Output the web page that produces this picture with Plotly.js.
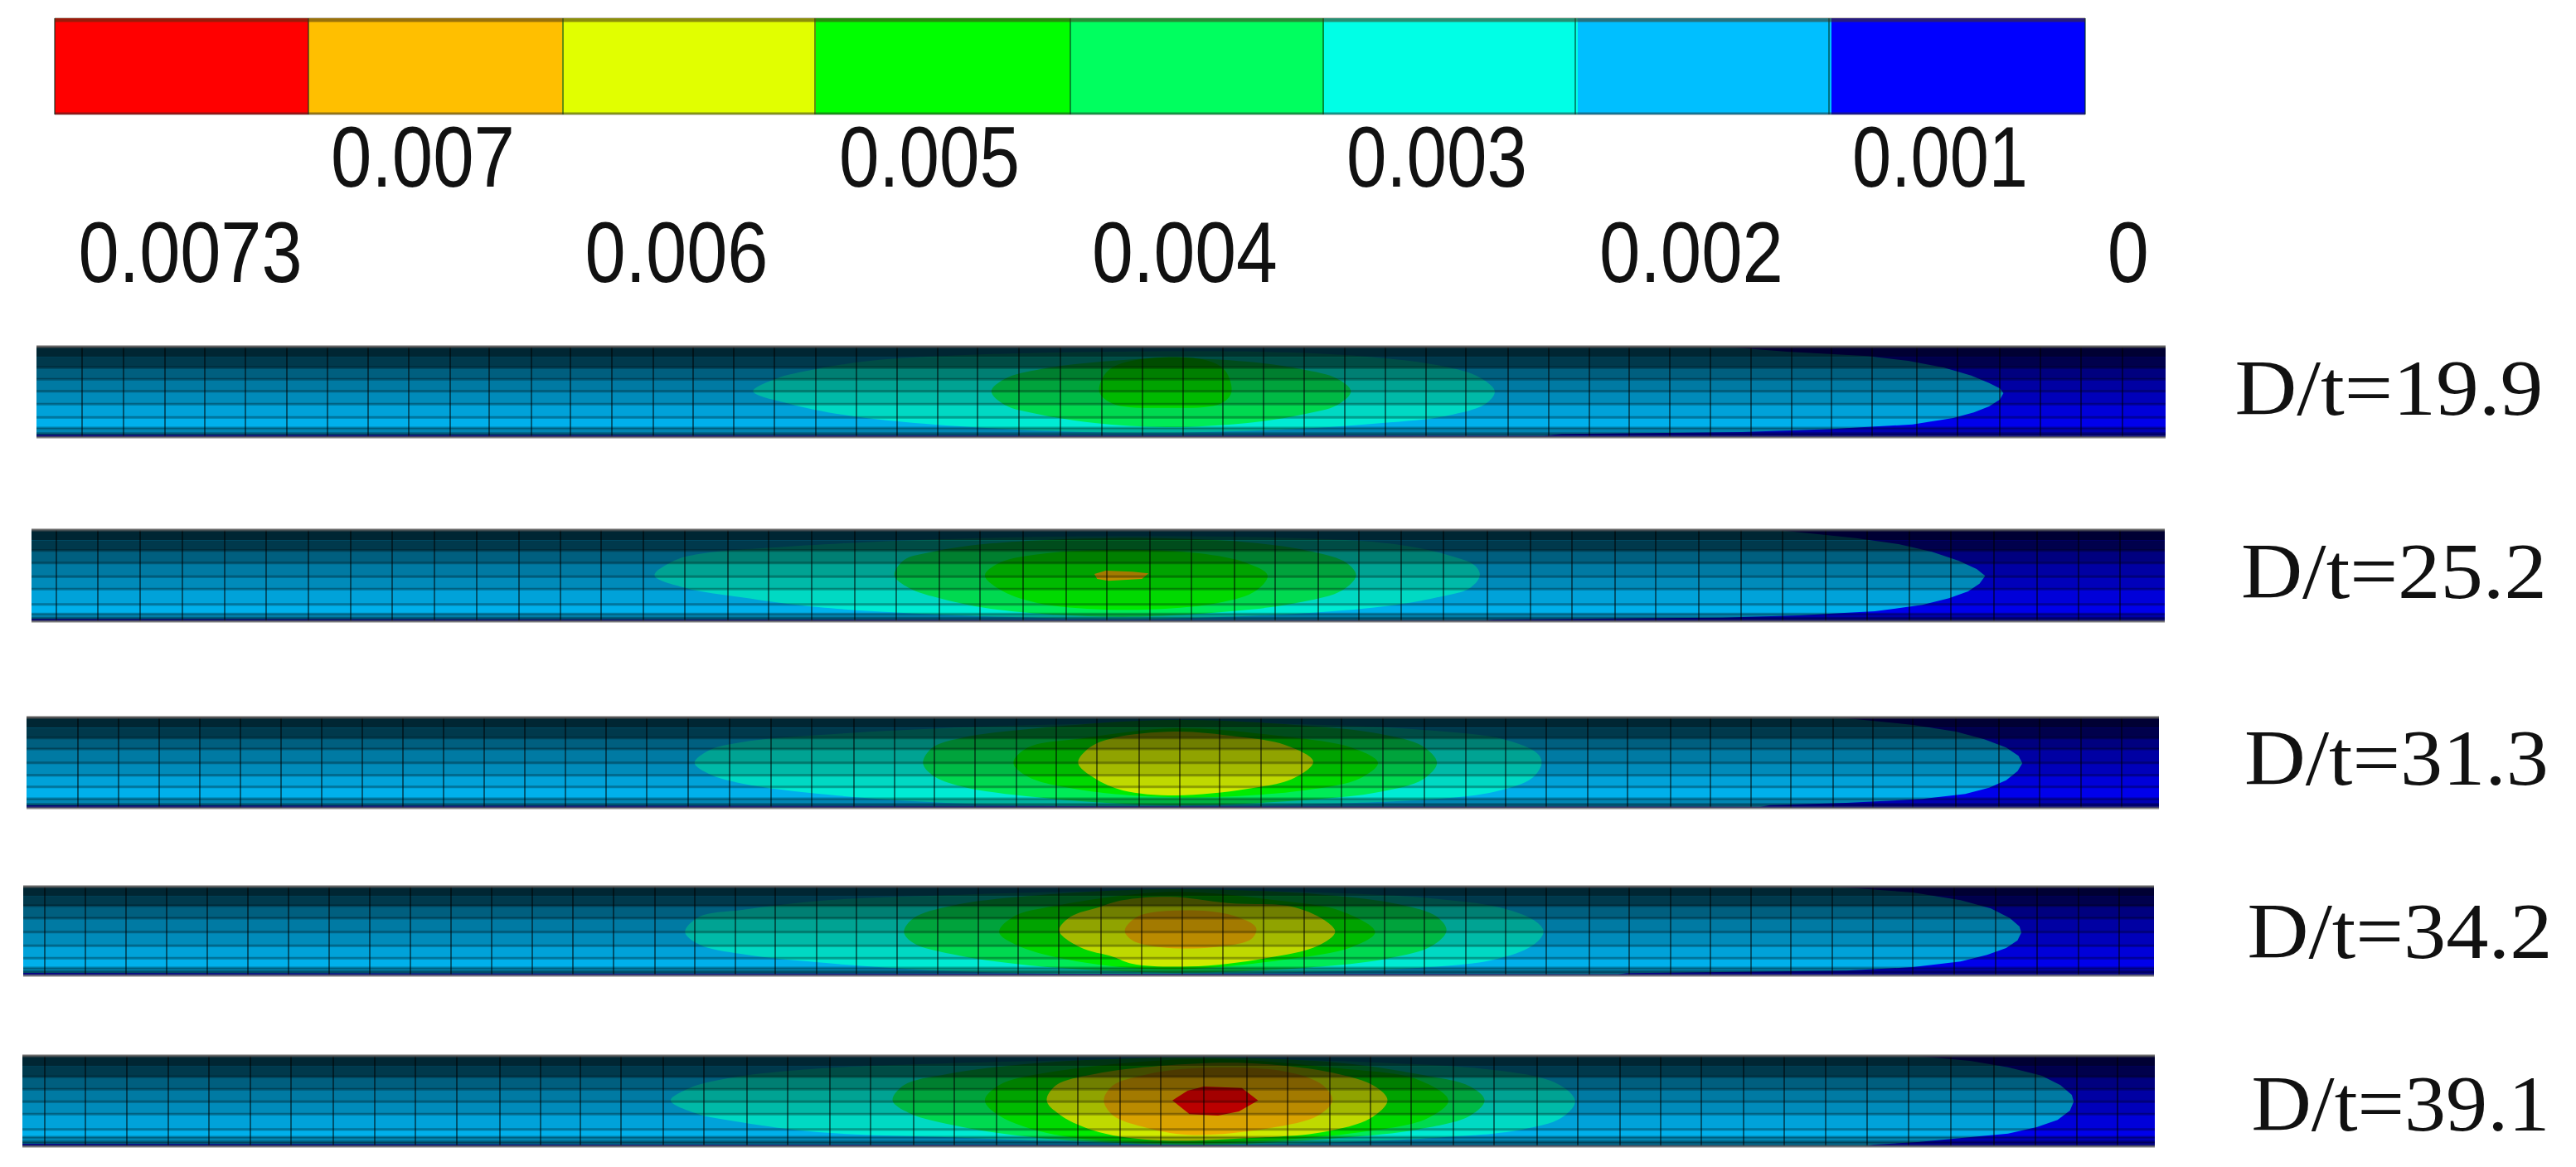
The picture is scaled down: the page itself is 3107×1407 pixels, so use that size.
<!DOCTYPE html>
<html>
<head>
<meta charset="utf-8">
<script src="https://cdn.plot.ly/plotly-3.0.1.min.js"></script>
<style>html,body{margin:0;padding:0;background:#fff}#chart{width:3107px;height:1407px}</style>
</head>
<body>
<div id="chart"></div>
<script>
// Legend
const bandColors = ['#0000ff','#00bfff','#00ffe6','#00ff5f','#00ff00','#e1ff00','#ffbf00','#ff0000'];
const legendEdges = [66,372,679,983,1291,1596,1900,2206,2515];
const legendBands = [7,6,5,4,3,2,1,0];
const legendTop = 22, legendBottom = 138;
const upperLabels = ['0.007','0.005','0.003','0.001'];
const upperLabelX = [510,1121,1733,2340];
const upperLabelW = [222,218,218,212];
const lowerLabels = ['0.0073','0.006','0.004','0.002','0'];
const lowerLabelX = [229,816,1429,2040,2566];
const lowerLabelW = [270,221,224,222,50];
const ratioLabels = ['D/t=19.9','D/t=25.2','D/t=31.3','D/t=34.2','D/t=39.1'];
const ratioX = [2881,2887,2890,2894,2895];
const ratioY = [467,688,913,1122,1330];
const ratioW = [372,369,367,368,360];

// Panel frames as [left,right,top,bottom] of the reference
const frames = [[44,2612,418,527],[38,2611,639,749],[32,2604,865,974],[28,2598,1069,1176],[27,2599,1273,1382]];
// Read-off calibration of the crops used for the contour tables
const readX0 = [800,700,700,700,700];
const readXScale = [0.9224,0.8711,0.8711,0.8711,0.8711];
const readY0 = [410,632,858,1062,1265];

// Mesh rows through the wall (read in crop units)
const rowEdges = [
 [24,62,100,142,185,232,280,318,338,351],
 [22,58,95,140,190,235,290,325,340,352],
 [20,58,95,135,185,230,272,315,335,347],
 [22,56,90,135,185,235,280,315,328,340],
 [25,62,100,145,190,235,290,318,335,352]];
const rowShade = [0.80,0.70,0.50,0.36,0.27,0.15,0.08,0.30,0.48];

// Mesh columns along the pipe (reference px)
const meshP1 = [99,149,199,247,296,346,395,444,493,543,590,641,688,738,788,836,885,934,984,1033,1082,1131,1179,1229,1279,1329,1378,1427,1475,1524,1573,1622,1671,1720,1768,1819,1868,1917,1965,2014,2063,2112,2161,2209,2258,2312,2361,2412,2461,2510,2560];
const meshP2 = [68,118,169,220,271,321,372,423,473,524,575,626,676,725,776,826,878,927,979,1031,1081,1133,1182,1234,1286,1335,1387,1437,1489,1538,1590,1639,1690,1741,1794,1846,1896,1948,1997,2049,2100,2150,2202,2252,2303,2353,2405,2457,2507,2557];
const meshP3 = [94,143,192,241,290,339,388,437,486,535,584,633,682,731,780,830,880,930,979,1030,1079,1127,1176,1226,1274,1323,1374,1423,1471,1521,1570,1618,1668,1718,1768,1816,1865,1915,1963,2015,2063,2112,2160,2211,2259,2307,2359,2411,2460,2510,2559];
const meshP4 = [54,103,152,201,250,299,348,397,446,495,544,593,642,691,740,790,838,887,935,985,1033,1082,1131,1180,1228,1277,1328,1377,1426,1475,1524,1573,1622,1670,1718,1768,1816,1865,1917,1965,2015,2063,2112,2160,2210,2259,2307,2357,2407,2457,2507,2556];
const meshP5 = [54,103,153,203,252,302,351,402,452,501,551,603,652,700,749,800,849,901,950,1001,1050,1102,1151,1202,1251,1300,1351,1400,1452,1504,1553,1604,1653,1702,1753,1802,1854,1903,1954,2003,2052,2103,2152,2202,2252,2302,2353,2405,2455,2505,2554];
const meshColumns = [meshP1,meshP2,meshP3,meshP4,meshP5];

// Contours: band index + outline in crop units. Band 1 is open on the left.
const outerP1 = [[1180,24],[1250,42],[1340,58],[1385,75],[1425,100],[1455,128],[1475,155],[1487,175],[1491,192],[1487,215],[1475,240],[1458,262],[1435,282],[1390,305],[1300,322],[1200,333],[1000,340],[980,346]];
const outerP2 = [[1260,22],[1340,50],[1385,72],[1420,100],[1448,132],[1467,162],[1476,187],[1470,215],[1458,243],[1438,268],[1410,292],[1360,315],[1280,330],[1200,338],[960,345],[950,348]];
const outerP3 = [[1320,20],[1400,48],[1445,72],[1475,100],[1498,130],[1511,160],[1515,187],[1510,215],[1498,248],[1480,275],[1455,298],[1410,316],[1330,330],[1250,338],[1240,344]];
const outerP4 = [[1320,22],[1400,42],[1450,70],[1482,100],[1502,135],[1512,165],[1514,187],[1510,215],[1498,243],[1478,268],[1450,292],[1400,312],[1330,325],[1100,334],[1090,338]];
const outerP5 = [[1405,25],[1460,42],[1500,65],[1535,95],[1555,130],[1567,165],[1569,190],[1565,222],[1552,256],[1530,282],[1500,305],[1405,336],[1360,345],[1350,350]];

const contoursP1 = [
 [2,[[100,185],[125,140],[170,105],[230,75],[330,55],[500,42],[700,45],[800,65],[860,90],[905,130],[925,185],[915,230],[870,275],[800,300],[700,322],[500,335],[300,305],[200,270],[140,230]]],
 [3,[[365,185],[380,140],[420,105],[480,80],[560,65],[650,78],[710,105],[750,140],[765,185],[750,235],[710,270],[650,300],[560,315],[480,300],[420,270],[380,235]]],
 [4,[[485,185],[495,110],[530,70],[600,70],[625,110],[632,190],[620,230],[560,245],[500,230]]]];
const contoursP2 = [
 [2,[[78,185],[100,130],[130,105],[200,85],[300,65],[500,45],[750,50],[850,70],[910,110],[940,150],[945,185],[935,230],[900,265],[850,295],[770,320],[600,342],[400,330],[250,300],[170,265],[110,230]]],
 [3,[[330,185],[340,130],[370,100],[430,70],[560,50],[700,65],[770,100],[805,140],[815,185],[800,240],[760,280],[700,310],[570,335],[440,310],[380,270],[345,230]]],
 [4,[[425,185],[440,140],[490,105],[570,92],[650,105],[700,140],[722,185],[710,240],[670,285],[570,310],[480,285],[440,235]]],
 [6,[[540,180],[552,168],[580,172],[597,178],[590,198],[555,205],[543,198]]]];
const contoursP3 = [
 [2,[[120,185],[135,140],[170,110],[250,85],[380,60],[620,40],[800,50],[900,70],[970,100],[1005,150],[1010,185],[1000,240],[960,290],[870,322],[620,340],[400,332],[260,300],[170,260],[135,225]]],
 [3,[[360,185],[370,130],[400,95],[480,60],[620,30],[760,50],[840,80],[885,125],[900,185],[885,245],[840,290],[760,320],[620,338],[480,310],[400,270],[370,230]]],
 [4,[[455,185],[470,130],[530,95],[625,60],[740,90],[810,130],[838,185],[820,240],[760,285],[625,310],[520,280],[470,235]]],
 [5,[[523,185],[535,130],[560,95],[625,72],[690,90],[740,120],[770,180],[750,240],[700,280],[625,303],[570,285],[540,240]]]];
const contoursP4 = [
 [2,[[110,185],[125,130],[170,105],[260,70],[400,50],[620,35],[800,45],[900,65],[970,100],[1005,150],[1012,185],[1000,235],[960,285],[880,315],[620,335],[400,328],[250,295],[170,265],[125,230]]],
 [3,[[340,185],[350,135],[390,90],[470,55],[620,30],[780,50],[860,85],[900,130],[910,180],[895,235],[850,280],[780,310],[620,332],[470,305],[390,265],[350,225]]],
 [4,[[440,185],[455,130],[500,90],[620,40],[730,70],[800,110],[835,185],[810,240],[740,285],[620,320],[520,290],[460,235]]],
 [5,[[503,180],[515,130],[545,95],[570,70],[620,58],[680,80],[750,95],[785,150],[793,185],[775,235],[720,280],[640,310],[580,300],[560,275],[525,240]]],
 [6,[[572,180],[585,130],[620,108],[680,120],[710,170],[705,210],[665,240],[610,240],[580,215]]]];
const contoursP5 = [
 [2,[[95,185],[115,140],[155,105],[230,75],[350,55],[650,35],[850,50],[960,75],[1020,115],[1042,165],[1045,195],[1030,250],[990,290],[900,320],[650,345],[400,320],[250,300],[170,265],[120,230]]],
 [3,[[328,185],[340,130],[385,90],[480,50],[650,30],[800,50],[880,90],[935,135],[950,185],[935,240],[880,290],[800,320],[650,345],[480,320],[385,270],[345,230]]],
 [4,[[425,185],[440,130],[490,85],[650,35],[800,70],[880,110],[912,185],[890,250],[820,300],[650,340],[500,310],[440,240]]],
 [5,[[490,185],[500,130],[540,90],[610,60],[700,50],[790,85],[835,135],[848,185],[830,250],[780,300],[700,322],[610,330],[545,300],[505,240]]],
 [6,[[550,185],[560,130],[590,95],[640,70],[740,80],[780,130],[790,185],[775,240],[725,285],[640,310],[590,280],[560,240]]],
 [7,[[622,185],[638,150],[655,135],[695,140],[712,185],[692,225],[670,240],[640,235]]]];
const outerOutlines = [outerP1,outerP2,outerP3,outerP4,outerP5];
const panelContours = [contoursP1,contoursP2,contoursP3,contoursP4,contoursP5];

const traces = [];
function poly(xs, ys, fill, smooth){
  traces.push({type:'scatter',mode:'lines',x:xs,y:ys,fill:'toself',fillcolor:fill,
    line:smooth?{width:0,shape:'spline',smoothing:1}:{width:0},hoverinfo:'skip',showlegend:false});
}
function line(xs, ys, color, width){
  traces.push({type:'scatter',mode:'lines',x:xs,y:ys,line:{color:color,width:width},hoverinfo:'skip',showlegend:false});
}

// Legend strip
traces.push({type:'heatmap',x:legendEdges,y:[legendTop,legendBottom],z:[legendBands],zmin:-0.5,zmax:7.5,
  colorscale:bandColors.flatMap((c,i)=>[[i/8,c],[(i+1)/8,c]]),showscale:false,hoverinfo:'skip'});
{
  const xs=[],ys=[];
  legendEdges.forEach(e=>{xs.push(e,e,null);ys.push(legendTop,legendBottom,null);});
  line(xs,ys,'rgba(0,50,30,0.55)',2);
  line([legendEdges[0],legendEdges[8]],[legendTop+2,legendTop+2],'rgba(70,50,20,0.55)',5);
  line([legendEdges[0],legendEdges[8]],[legendBottom-1,legendBottom-1],'rgba(40,40,40,0.5)',3);
}

frames.forEach((f,p)=>{
  const [L,R,T,B]=f;
  const toX=u=>readX0[p]+u/readXScale[p];
  const toY=v=>readY0[p]+v/3;
  poly([L,R,R,L,L],[T,T,B,B,T],bandColors[0],false);
  const o=outerOutlines[p];
  poly([L].concat(o.map(q=>toX(q[0])),[L,L]),[T].concat(o.map(q=>toY(q[1])),[B-3,T]),bandColors[1],false);
  panelContours[p].forEach(c=>{
    const n=c[1].length;
    const smooth=c[0]<7 && n>=9;
    // begin the closed outline on its flat upper side, so the spline has no visible seam
    const s=smooth?Math.floor(n/4):0;
    const pts=c[1].slice(s).concat(c[1].slice(0,s+1));
    poly(pts.map(q=>toX(q[0])),pts.map(q=>toY(q[1])),bandColors[c[0]],smooth);
  });
  const re=rowEdges[p];
  rowShade.forEach((a,i)=>{
    const y0=toY(re[i]),y1=toY(re[i+1]);
    poly([L,R,R,L,L],[y0,y0,y1,y1,y0],'rgba(0,0,0,'+a+')',false);
  });
  const hx=[],hy=[];
  re.slice(2,9).forEach(v=>{hx.push(L,R,null);hy.push(toY(v),toY(v),null);});
  line(hx,hy,'rgba(0,0,0,0.3)',3);
  const vx=[],vy=[];
  meshColumns[p].forEach(x=>{vx.push(x,x,null);vy.push(T,B,null);});
  line(vx,vy,'rgba(0,0,0,0.5)',2);
  line([L,R],[T,T],'rgba(80,80,80,0.85)',3);
  line([L,R],[B,B],'rgba(90,90,90,0.75)',3);
});

const annotations=[];
const labelWidths=[];
function label(t,x,y,family,size,w){
  annotations.push({text:t,x:x,y:y,xref:'x',yref:'y',showarrow:false,xanchor:'center',yanchor:'middle',
    font:{family:family,size:size,color:'#111'}});
  labelWidths.push(w);
}
const sans='"Liberation Sans",sans-serif';
upperLabels.forEach((t,i)=>label(t,upperLabelX[i],189,sans,103,upperLabelW[i]));
lowerLabels.forEach((t,i)=>label(t,lowerLabelX[i],304,sans,103,lowerLabelW[i]));
ratioLabels.forEach((t,i)=>label(t,ratioX[i],ratioY[i],'"Liberation Serif",serif',96,ratioW[i]));

const layout={width:3107,height:1407,margin:{l:0,r:0,t:0,b:0},paper_bgcolor:'#fff',plot_bgcolor:'#fff',showlegend:false,
  xaxis:{range:[0,3107],visible:false,fixedrange:true},
  yaxis:{range:[1407,0],visible:false,fixedrange:true},
  annotations:annotations};
Plotly.newPlot('chart',traces,layout,{displayModeBar:false,staticPlot:true}).then(gd=>{
  // the reference lettering is condensed or extended: fit each real text label to its measured width
  gd.querySelectorAll('.annotation-text').forEach((el,i)=>{
    el.setAttribute('textLength',labelWidths[i]);
    el.setAttribute('lengthAdjust','spacingAndGlyphs');
  });
});
</script>
</body>
</html>
